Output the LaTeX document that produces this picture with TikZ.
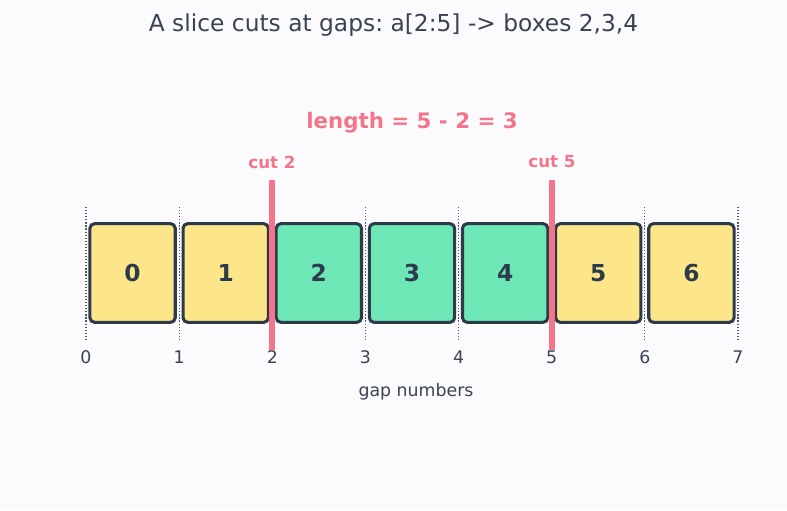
\documentclass[tikz,border=0pt]{standalone}
\usepackage{fontspec}
\setmainfont{DejaVu Sans}
\usepackage{tikz}
\usetikzlibrary{positioning}
\frenchspacing
\definecolor{pagebg}{HTML}{FBFBFD}
\definecolor{inkdark}{HTML}{2D3A4A}
\definecolor{titleink}{HTML}{3A4352}
\definecolor{cutpink}{HTML}{F4758A}
\definecolor{keepyellow}{HTML}{FDE68A}
\definecolor{takegreen}{HTML}{6EE7B7}
\tikzset{
  slot-box/.style={draw=inkdark, line width=2.3pt, rounded corners=3.5pt,
    minimum width=64pt, minimum height=74pt, inner sep=0pt,
    font=\fontsize{17.5}{19}\selectfont\bfseries, text=inkdark},
  slot-keep/.style={slot-box, fill=keepyellow},
  slot-take/.style={slot-box, fill=takegreen},
  gap-mark/.style={draw=inkdark!85, line width=0.9pt, dash pattern=on 0.9pt off 1.4pt},
  gap-label/.style={font=\fontsize{13}{15}\selectfont, text=titleink},
  cut-line/.style={draw=cutpink, line width=4.5pt},
  cut-label/.style={font=\fontsize{12.5}{14}\selectfont\bfseries, text=cutpink}
}

\begin{document}
\begin{tikzpicture}[x=0.75pt, y=-0.75pt]
  % page
  \fill[pagebg] (0,0) rectangle (787,510);
  \useasboundingbox (0,0) rectangle (787,510);

  % title
  \node[font=\fontsize{17.5}{20}\selectfont, text=titleink] (title) at (393.5,25) {A slice cuts at gaps: a[2:5] -> boxes 2,3,4};

  % gap positions, dotted marks and numbers
  \foreach \g in {0,...,7} {
    \coordinate (gtop\g) at ({86+93.14*\g},207);
    \coordinate (gbot\g) at ({86+93.14*\g},340);
    \draw[gap-mark] (gtop\g) -- (gbot\g);
    \node[gap-label] (gn\g) at ({86+93.14*\g},357) {\g};
  }
  \node[gap-label] (gapcap) at (416,392) {gap numbers};

  % boxes
  \foreach \b/\kind in {0/slot-keep,1/slot-keep,2/slot-take,3/slot-take,4/slot-take,5/slot-keep,6/slot-keep} {
    \node[\kind] (b\b) at ({86+93.14*\b+46.57},273) {\b};
  }

  % cuts
  \coordinate (c2top) at (272,180);
  \coordinate (c2bot) at (272,350);
  \coordinate (c5top) at (552,180);
  \coordinate (c5bot) at (552,350);
  \draw[cut-line] (c2top) -- (c2bot);
  \draw[cut-line] (c5top) -- (c5bot);
  \node[cut-label] (cut2) at (272,162) {cut 2};
  \node[cut-label] (cut5) at (552,162) {cut 5};

  % length
  \node[font=\fontsize{16}{18}\selectfont\bfseries, text=cutpink] (len) at (412,123) {length = 5 - 2 = 3};
\end{tikzpicture}
\end{document}
